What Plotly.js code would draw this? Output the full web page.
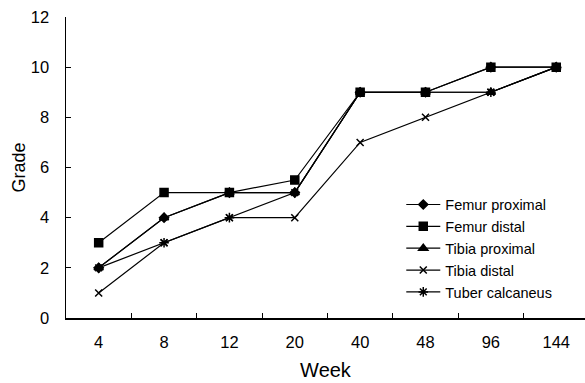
<!DOCTYPE html>
<html>
<head>
<meta charset="utf-8">
<script src="https://cdn.plot.ly/plotly-3.0.1.min.js"></script>
<style>html,body{margin:0;padding:0;background:#fff;}#chart{width:585px;height:383px;}</style>
</head>
<body>
<div id="chart"></div>
<script>
const weeks = ["4", "8", "12", "20", "40", "48", "96", "144"];
const femurProximal = [2, 4, 5, 5, 9, 9, 10, 10];
const femurDistal = [3, 5, 5, 5.5, 9, 9, 10, 10];
const tibiaProximal = [2, 4, 5, 5, 9, 9, 9, 10];
const tibiaDistal = [1, 3, 4, 4, 7, 8, 9, 10];
const tuberCalcaneus = [2, 3, 4, 5, 9, 9, 9, 10];
const seriesNames = ["Femur proximal", "Femur distal", "Tibia proximal", "Tibia distal", "Tuber calcaneus"];
const seriesValues = [femurProximal, femurDistal, tibiaProximal, tibiaDistal, tuberCalcaneus];
const symbols = ["diamond", "square", "triangle-up", "x-thin-open", "asterisk-open"];
const sizes = [7, 8, 8, 7, 8];

const traces = seriesNames.map((n, i) => ({
  type: "scatter",
  mode: "lines+markers",
  name: n,
  x: weeks,
  y: seriesValues[i],
  line: {color: "#000", width: 1.2},
  marker: {symbol: symbols[i], size: sizes[i], color: "#000", line: {color: "#000", width: 1.5}}
}));

const layout = {
  width: 585, height: 383,
  margin: {l: 66, r: 0, t: 17, b: 65},
  paper_bgcolor: "#fff", plot_bgcolor: "#fff",
  font: {family: "Liberation Sans, Arial, sans-serif", size: 16.5, color: "#000"},
  showlegend: true,
  legend: {x: 0.646, y: 0.43, xanchor: "left", yanchor: "top", bgcolor: "rgba(0,0,0,0)",
           font: {size: 14.5}, tracegroupgap: 0, itemwidth: 34},
  xaxis: {
    type: "category", range: [-0.5, 7.44],
    showline: true, linecolor: "#000", linewidth: 1.5,
    ticks: "inside", tickson: "boundaries", ticklen: 5, tickcolor: "#000",
    tickfont: {size: 16.5},
    showgrid: false, zeroline: false, ticklabelstandoff: 9,
    title: {text: "Week", font: {size: 20}, standoff: 12},
    automargin: false
  },
  yaxis: {
    range: [0, 12], dtick: 2,
    showline: true, linecolor: "#000", linewidth: 1.5,
    ticks: "inside", ticklen: 5, tickcolor: "#000",
    tickfont: {size: 16.5},
    showgrid: false, zeroline: false, ticklabelstandoff: 12,
    title: {text: "Grade", font: {size: 18}, standoff: 0},
    automargin: false
  }
};

Plotly.newPlot("chart", traces, layout, {displayModeBar: false, staticPlot: true});
</script>
</body>
</html>
